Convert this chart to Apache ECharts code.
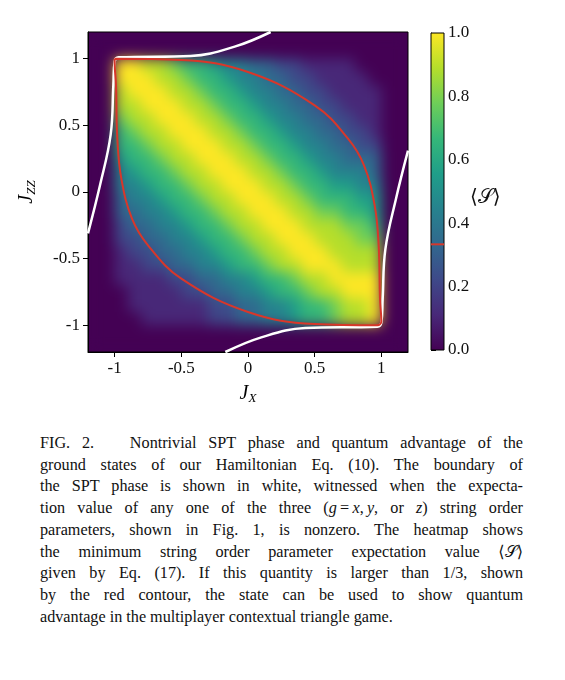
<!DOCTYPE html>
<html>
<head>
<meta charset="UTF-8">
<script src="https://cdn.jsdelivr.net/npm/echarts@6.0.0/dist/echarts.min.js"></script>
<style>
  body { margin: 0; background: #fff; }
  #heatWrap { position: absolute; left: 88px; top: 32px; width: 320px; height: 320px; overflow: hidden; background: #440154; }
  #heat { position: absolute; left: -20px; top: -20px; width: 360px; height: 360px; filter: blur(7px); }
  #chart { position: absolute; left: 0; top: 0; width: 565px; height: 420px; }
  #caption {
    position: absolute; left: 40px; top: 433px; width: 483px;
    font-family: "Liberation Serif", "DejaVu Serif", serif; font-size: 16.2px;
    line-height: 21.7px; color: #111;
  }
  #caption div { text-align: justify; text-align-last: justify; }
  #caption div.last { text-align-last: left; }
</style>
</head>
<body>
<div id="heatWrap"><div id="heat"></div></div>
<div id="chart"></div>
<div id="caption">
<div>FIG. 2.&nbsp;&nbsp; Nontrivial SPT phase and quantum advantage of the</div>
<div>ground states of our Hamiltonian Eq. (10). The boundary of</div>
<div>the SPT phase is shown in white, witnessed when the expecta-</div>
<div>tion value of any one of the three (<i>g</i>&#8201;=&#8201;<i>x</i>,&#8201;<i>y</i>, or <i>z</i>) string order</div>
<div>parameters, shown in Fig. 1, is nonzero. The heatmap shows</div>
<div>the minimum string order parameter expectation value ⟨𝒮⟩</div>
<div>given by Eq. (17). If this quantity is larger than 1/3, shown</div>
<div>by the red contour, the state can be used to show quantum</div>
<div class="last">advantage in the multiplayer contextual triangle game.</div>
</div>
<script>
// grid cell centres, step 0.1
const jxCentres = [-1.15,-1.05,-0.95,-0.85,-0.75,-0.65,-0.55,-0.45,-0.35,-0.25,-0.15,-0.05,0.05,0.15,0.25,0.35,0.45,0.55,0.65,0.75,0.85,0.95,1.05,1.15];
const jzzCentres = jxCentres.slice().reverse(); // rows top -> bottom
// <S>, digit/9, rows from Jzz=1.15 down to -1.15
const sRows = [
  "000000000000000000000000",
  "000000000000000000000000",
  "009988766544332211110000",
  "009998876654433221111000",
  "008999887665443322111100",
  "008899988766544332211100",
  "007889998876654433221100",
  "006788999887665443322100",
  "006678899988766544332200",
  "005667889998876654433300",
  "004566788999887665444300",
  "004456678899988766554400",
  "003445667889998876665500",
  "003344566788999887766500",
  "002334456678899988877600",
  "002233445667889998887700",
  "001223344566788999888800",
  "001122334456678899988800",
  "001111223344566788999900",
  "000111122334456678899900",
  "000111111223344566788900",
  "000011111223344566788900",
  "000000000000000000000000",
  "000000000000000000000000"
];
// red contour <S> = 1/3
const redJx  = [-1,-0.5,0,0.5,0.75,0.87,0.95,0.98,0.99,1,0.97,0.5,0,-0.5,-0.75,-0.87,-0.95,-0.98,-0.99,-1,-1];
const redJzz = [1,0.99,0.9,0.65,0.4,0.2,-0.1,-0.4,-0.8,-0.97,-1,-0.99,-0.9,-0.65,-0.4,-0.2,0.1,0.4,0.8,0.97,1];
// white SPT boundary, two branches
const whiteAJx  = [-1.2,-1.11,-1.03,-1.01,-1,-0.97,-0.43,-0.1,0.17];
const whiteAJzz = [-0.31,0.05,0.43,0.8,0.98,1.01,1.02,1.09,1.2];
const whiteBJx  = [1.2,1.11,1.03,1.01,1,0.97,0.43,0.1,-0.17];
const whiteBJzz = [0.31,-0.05,-0.43,-0.8,-0.98,-1.01,-1.02,-1.09,-1.2];
const tickVals = [-1,-0.5,0,0.5,1];
const tickText = ['-1','-0.5','0','0.5','1'];

const viridis = ['#440154','#482878','#3e4989','#31688e','#26828e','#1f9e89','#35b779','#6ece58','#b5de2b','#fde725'];
const serif = '"Liberation Serif", "DejaVu Serif", serif';

const cells = [];
sRows.forEach((row, r) => {
  for (let c = 0; c < row.length; c++) cells.push([jxCentres[c], jzzCentres[r], Number(row[c]) / 9]);
});
const zip = (a, b) => a.map((v, i) => [v, b[i]]);

// heatmap layer (blurred underneath)
const heat = echarts.init(document.getElementById('heat'));
heat.setOption({
  animation: false,
  grid: { left: 20, top: 20, width: 320, height: 320 },
  xAxis: { type: 'value', min: -1.2, max: 1.2, show: false },
  yAxis: { type: 'value', min: -1.2, max: 1.2, show: false },
  visualMap: { show: false, type: 'continuous', min: 0, max: 1, dimension: 2, inRange: { color: viridis } },
  series: [{
    type: 'custom', data: cells, clip: false,
    renderItem: (params, api) => {
      const p0 = api.coord([api.value(0) - 0.05, api.value(1) + 0.05]);
      const p1 = api.coord([api.value(0) + 0.05, api.value(1) - 0.05]);
      return { type: 'rect', shape: { x: p0[0], y: p0[1], width: p1[0] - p0[0] + 0.6, height: p1[1] - p0[1] + 0.6 },
        style: { fill: api.visual('color') } };
    }
  }]
});

const chart = echarts.init(document.getElementById('chart'));
const mainAxis = (pos) => ({
  type: 'value', min: -1.2, max: 1.2, position: pos,
  axisLine: { onZero: false, lineStyle: { color: '#000', width: 1 } },
  splitLine: { show: false },
  axisTick: { customValues: tickVals, length: 5, lineStyle: { color: '#000' } },
  axisLabel: { customValues: tickVals, formatter: v => tickText[tickVals.indexOf(+v.toFixed(2))] ?? '',
    fontFamily: serif, fontSize: 17, color: '#111', margin: 8 }
});
const nameRich = { j: { fontFamily: serif, fontStyle: 'italic', fontSize: 20 }, s: { fontFamily: serif, fontStyle: 'italic', fontSize: 13, padding: [10, 0, 0, 0] } };
chart.setOption({
  animation: false,
  grid: [
    { left: 88, top: 32, width: 320, height: 320 },
    { left: 431, top: 33, width: 13, height: 317 }
  ],
  xAxis: [
    Object.assign(mainAxis('bottom'), { gridIndex: 0, name: '{j|J}{s|X}', nameLocation: 'middle', nameGap: 30, nameTextStyle: { rich: nameRich } }),
    { type: 'value', gridIndex: 1, min: 0, max: 1, show: false }
  ],
  yAxis: [
    Object.assign(mainAxis('left'), { gridIndex: 0, name: '{j|J}{s|ZZ}', nameLocation: 'middle', nameGap: 50, nameTextStyle: { rich: nameRich } }),
    { type: 'value', gridIndex: 1, min: 0, max: 1, interval: 0.2, position: 'right',
      axisLine: { show: true, lineStyle: { color: '#000' } }, splitLine: { show: false },
      axisTick: { show: true, length: 5, lineStyle: { color: '#000' } },
      axisLabel: { formatter: v => v.toFixed(1), fontFamily: serif, fontSize: 17, color: '#111', margin: 4 } }
  ],
  graphic: [
    { type: 'rect', shape: { x: 431, y: 33, width: 13, height: 317 }, z: 1,
      style: { fill: new echarts.graphic.LinearGradient(0, 1, 0, 0, viridis.map((c, i) => ({ offset: i / (viridis.length - 1), color: c }))), stroke: '#000', lineWidth: 1 } },
    { type: 'rect', shape: { x: 88, y: 32, width: 320, height: 320 }, z: 1, style: { fill: 'none', stroke: '#000', lineWidth: 1 } },
    { type: 'text', left: 470, top: 188, style: { text: '⟨𝒮⟩', font: '20px ' + serif, fill: '#111' } }
  ],
  series: [
    { type: 'line', data: zip(whiteAJx, whiteAJzz), smooth: 0.4, symbol: 'none', lineStyle: { color: '#fff', width: 2.5 }, z: 5 },
    { type: 'line', data: zip(whiteBJx, whiteBJzz), smooth: 0.4, symbol: 'none', lineStyle: { color: '#fff', width: 2.5 }, z: 5 },
    { type: 'line', data: zip(redJx, redJzz), smooth: 0.4, symbol: 'none', lineStyle: { color: '#d8372a', width: 2 }, z: 6 },
    { type: 'line', xAxisIndex: 1, yAxisIndex: 1, data: [[0, 1/3], [1, 1/3]], symbol: 'none', lineStyle: { color: '#d8372a', width: 2 }, z: 10 }
  ]
});
</script>
</body>
</html>
